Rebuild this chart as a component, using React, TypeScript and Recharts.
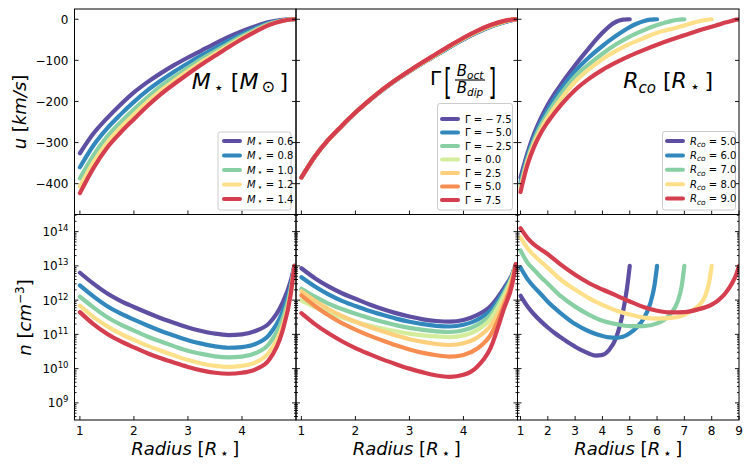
import React from 'react'
import { LineChart, Line, XAxis, YAxis } from 'recharts'

const FONT = "'DejaVu Sans', sans-serif"
const W = 747
const H = 467
const PANEL_X0 = 74.5
const PANEL_Y0 = 9
const PANEL_W = 221.5
const PANEL_H = 205.5

const masses = [0.6, 0.8, 1.0, 1.2, 1.4]
const gammas = [-7.5, -5.0, -2.5, 0.0, 2.5, 5.0, 7.5]
const corotationRadii = [5.0, 6.0, 7.0, 8.0, 9.0]

const spectral5 = ['#5e4fa2', '#3288bd', '#88cfa4', '#fee08b', '#d53e4f']
const spectral7 = ['#5e4fa2', '#3288bd', '#88cfa4', '#d3ed9c', '#fed07e', '#f88d52', '#d53e4f']

const xTicksShort = [1, 2, 3, 4]
const xTicksLong = [1, 2, 3, 4, 5, 6, 7, 8, 9]
const uTicks = [0, -100, -200, -300, -400]
const logNTicks = [9, 10, 11, 12, 13, 14]

// shared radius grid for the M and Gamma panels [R*]
const radiusGrid = [1, 1.25, 1.5, 1.75, 2, 2.25, 2.5, 2.75, 3, 3.25, 3.5, 3.75, 4, 4.25, 4.5, 4.75, 4.9, 4.97]

// u [km/s], stellar mass panel
const uMass06 = [-326, -278, -241, -208, -178, -153, -131, -111, -93, -76, -59, -43, -29, -17, -7, -1.5, -0.2, 0]
const uMass08 = [-360, -307, -266, -232, -201, -173, -149, -127, -107, -88, -70, -52, -36, -22, -9, -2.4, -0.3, 0]
const uMass10 = [-387, -331, -286, -251, -219, -190, -163, -140, -118, -97, -78, -59, -41, -25, -11, -3, -0.4, 0]
const uMass12 = [-407, -348, -301, -264, -232, -201, -173, -149, -126, -104, -84, -64, -45, -28, -13, -3.6, -0.45, 0]
const uMass14 = [-423, -362, -313, -276, -243, -211, -182, -157, -133, -110, -89, -68, -48, -30, -14, -4, -0.5, 0]

// log10 n [cm^-3], stellar mass panel
const logNMass06 = [12.8, 12.48, 12.2, 11.98, 11.8, 11.63, 11.47, 11.33, 11.2, 11.1, 11.02, 10.98, 11.0, 11.1, 11.32, 11.92, 12.55, 13.0]
const logNMass08 = [12.43, 12.11, 11.83, 11.61, 11.43, 11.26, 11.1, 10.96, 10.83, 10.73, 10.65, 10.61, 10.63, 10.72, 10.98, 11.65, 12.4, 13.0]
const logNMass10 = [12.1, 11.79, 11.51, 11.29, 11.11, 10.94, 10.79, 10.65, 10.52, 10.43, 10.36, 10.33, 10.35, 10.45, 10.72, 11.45, 12.3, 13.0]
const logNMass12 = [11.84, 11.51, 11.24, 11.02, 10.84, 10.67, 10.52, 10.38, 10.25, 10.15, 10.08, 10.05, 10.08, 10.18, 10.47, 11.25, 12.2, 13.0]
const logNMass14 = [11.65, 11.3, 11.02, 10.8, 10.62, 10.45, 10.3, 10.17, 10.05, 9.95, 9.88, 9.85, 9.88, 9.98, 10.25, 11.1, 12.15, 13.0]

// u [km/s], octupole/dipole panel
const uGammaM75 = [-385, -334, -293, -259, -227, -198.5, -172, -148.5, -127, -106.5, -87, -67.5, -49, -32.5, -18.5, -7.5, -2, 0]
const uGammaM50 = [-385, -334, -293, -259, -227, -198.5, -172, -148.3, -126.7, -106, -86.5, -67, -48.3, -31.8, -17.8, -7, -1.8, 0]
const uGammaM25 = [-385, -334, -293, -259, -227, -198.3, -171.7, -148, -126.3, -105.6, -86, -66.3, -47.6, -31, -17, -6.4, -1.5, 0]
const uGamma00 = [-385, -334, -293, -259, -227, -198.2, -171.5, -147.8, -126, -105.2, -85.4, -65.6, -46.8, -30.2, -16.2, -5.8, -1.2, 0]
const uGammaP25 = [-385, -334, -293, -259, -227, -198.1, -171.3, -147.5, -125.6, -104.8, -84.9, -65, -46.2, -29.4, -15.4, -5.1, -1, 0]
const uGammaP50 = [-385, -334, -293, -259, -227, -198, -171.1, -147.2, -125.3, -104.4, -84.4, -64.5, -45.6, -28.7, -14.7, -4.5, -0.7, 0]
const uGammaP75 = [-385, -334, -293, -259, -227, -198, -171, -147, -125, -104, -84, -64, -45, -28, -14, -4, -0.5, 0]

// log10 n [cm^-3], octupole/dipole panel
const logNGammaM75 = [12.93, 12.64, 12.4, 12.2, 12.04, 11.88, 11.74, 11.62, 11.52, 11.44, 11.39, 11.37, 11.42, 11.56, 11.82, 12.35, 12.75, 13.05]
const logNGammaM50 = [12.67, 12.4, 12.17, 11.98, 11.83, 11.69, 11.57, 11.46, 11.37, 11.3, 11.25, 11.23, 11.28, 11.42, 11.7, 12.28, 12.72, 13.05]
const logNGammaM25 = [12.33, 12.1, 11.9, 11.74, 11.6, 11.48, 11.37, 11.27, 11.19, 11.13, 11.09, 11.07, 11.12, 11.27, 11.57, 12.2, 12.7, 13.05]
const logNGamma00 = [11.99, 11.8, 11.63, 11.49, 11.37, 11.26, 11.17, 11.09, 11.02, 10.97, 10.94, 10.92, 10.97, 11.12, 11.45, 12.12, 12.66, 13.05]
const logNGammaP25 = [12.26, 11.98, 11.74, 11.54, 11.37, 11.22, 11.09, 10.97, 10.86, 10.78, 10.72, 10.69, 10.74, 10.9, 11.25, 11.98, 12.6, 13.05]
const logNGammaP50 = [12.14, 11.83, 11.56, 11.33, 11.14, 10.97, 10.82, 10.68, 10.56, 10.46, 10.39, 10.35, 10.4, 10.58, 10.98, 11.85, 12.55, 13.05]
const logNGammaP75 = [11.62, 11.3, 11.03, 10.8, 10.6, 10.43, 10.27, 10.13, 10.0, 9.89, 9.8, 9.76, 9.82, 10.05, 10.6, 11.75, 12.45, 13.05]

// corotation radius panel: each curve ends at its own R_co
const radiusRco5 = [1, 1.25, 1.5, 1.75, 2, 2.25, 2.5, 2.75, 3, 3.25, 3.5, 3.75, 4, 4.25, 4.5, 4.75, 4.9, 5]
const uRco5 = [-385, -326, -278, -240, -208, -181, -157, -134, -112, -91, -71, -51, -33, -17, -6, -1, -0.1, 0]
const logNRco5 = [12.13, 11.82, 11.58, 11.38, 11.2, 11.04, 10.9, 10.76, 10.64, 10.53, 10.44, 10.38, 10.4, 10.55, 10.9, 11.65, 12.35, 13.0]

const radiusRco6 = [1, 1.25, 1.5, 1.75, 2, 2.5, 3, 3.5, 4, 4.25, 4.5, 4.75, 5, 5.25, 5.5, 5.75, 5.9, 6]
const uRco6 = [-397, -334, -287, -249, -219, -168, -126, -93, -65, -52, -40, -29, -19, -11, -5, -1, -0.2, 0]
const logNRco6 = [12.95, 12.62, 12.38, 12.17, 11.95, 11.6, 11.3, 11.09, 10.95, 10.91, 10.9, 10.93, 11.03, 11.2, 11.45, 11.9, 12.4, 13.0]

const radiusRco7 = [1, 1.25, 1.5, 1.75, 2, 2.5, 3, 3.5, 4, 4.5, 5, 5.5, 6, 6.25, 6.5, 6.75, 6.9, 7]
const uRco7 = [-405, -341, -294, -258, -229, -180, -139, -110, -84, -61, -42, -27, -14, -9, -4.5, -1.2, -0.2, 0]
const logNRco7 = [13.45, 13.1, 12.88, 12.67, 12.48, 12.1, 11.81, 11.58, 11.4, 11.3, 11.24, 11.24, 11.32, 11.42, 11.6, 11.95, 12.4, 13.0]

const radiusRco8 = [1, 1.25, 1.5, 1.75, 2, 2.5, 3, 3.5, 4, 4.5, 5, 5.5, 6, 6.5, 7, 7.25, 7.5, 7.75, 7.9, 8]
const uRco8 = [-412, -348, -302, -267, -239, -192, -152, -122, -97, -77, -60, -46, -33, -24, -15, -10, -5.5, -2, -0.5, 0]
const logNRco8 = [13.83, 13.52, 13.3, 13.12, 12.94, 12.58, 12.31, 12.06, 11.86, 11.7, 11.58, 11.49, 11.46, 11.48, 11.57, 11.68, 11.82, 12.1, 12.5, 13.0]

const radiusRco9 = [1, 1.25, 1.5, 1.75, 2, 2.5, 3, 3.5, 4, 4.5, 5, 5.5, 6, 6.5, 7, 7.5, 8, 8.25, 8.5, 8.75, 8.9, 9]
const uRco9 = [-420, -355, -310, -276, -250, -207, -172, -145, -123, -105, -89, -75, -62, -50, -39, -28, -18, -13, -8, -3.5, -1, 0]
const logNRco9 = [14.1, 13.82, 13.62, 13.48, 13.34, 13.02, 12.74, 12.5, 12.31, 12.14, 11.96, 11.8, 11.69, 11.64, 11.65, 11.73, 11.87, 12.0, 12.2, 12.5, 12.75, 13.0]

// minor ticks of the log axis (2..9 x 10^k)
const logNMinor: number[] = []
for (let k = 8; k <= 14; k++) {
  for (let m = 2; m <= 9; m++) {
    const t = k + Math.log10(m)
    if (t > 8.5 && t < 14.5) logNMinor.push(t)
  }
}

type Row = { r: number; v: number }
type Series = { key: string; color: string; rows: Row[] }

const toRows = (r: number[], v: number[]): Row[] => r.map((x, i) => ({ r: x, v: v[i] }))

const massU = [uMass06, uMass08, uMass10, uMass12, uMass14]
const massN = [logNMass06, logNMass08, logNMass10, logNMass12, logNMass14]
const gammaU = [uGammaM75, uGammaM50, uGammaM25, uGamma00, uGammaP25, uGammaP50, uGammaP75]
const gammaN = [logNGammaM75, logNGammaM50, logNGammaM25, logNGamma00, logNGammaP25, logNGammaP50, logNGammaP75]
const rcoR = [radiusRco5, radiusRco6, radiusRco7, radiusRco8, radiusRco9]
const rcoU = [uRco5, uRco6, uRco7, uRco8, uRco9]
const rcoN = [logNRco5, logNRco6, logNRco7, logNRco8, logNRco9]

const massSeries = (vals: number[][]): Series[] =>
  vals.map((v, i) => ({ key: 'm' + i, color: spectral5[i], rows: toRows(radiusGrid, v) }))
const gammaSeries = (vals: number[][]): Series[] =>
  vals.map((v, i) => ({ key: 'g' + i, color: spectral7[i], rows: toRows(radiusGrid, v) }))
const rcoSeries = (vals: number[][]): Series[] =>
  vals.map((v, i) => ({ key: 'r' + i, color: spectral5[i], rows: toRows(rcoR[i], v) }))

const minus = (v: number, digits = 0) => (v < 0 ? '\u2212' : '') + Math.abs(v).toFixed(digits)

const EmptyTick = () => <g />

function LogTick(props: any) {
  const { x, y, payload } = props
  return (
    <text x={x} y={y + 4.5} textAnchor="end" fontSize={12} fontFamily={FONT} fill="#000">
      10
      <tspan dy={-5} fontSize={8.5}>
        {payload.value}
      </tspan>
    </text>
  )
}

const tickFont = { fontSize: 12, fill: '#000', fontFamily: FONT }

type PanelProps = {
  col: number
  row: number
  xDomain: [number, number]
  xTicks: number[]
  yDomain: [number, number]
  yTicks: number[]
  yMinor?: number[]
  showX: boolean
  yTick?: any
  yFormat?: (v: number) => string
  series: Series[]
}

function Panel({ col, row, xDomain, xTicks, yDomain, yTicks, yMinor, showX, yTick, yFormat, series }: PanelProps) {
  const left = PANEL_X0 + col * PANEL_W
  const top = PANEL_Y0 + row * PANEL_H
  const margin = { left, top, right: W - left - PANEL_W, bottom: H - top - PANEL_H }
  const inward = { stroke: '#000', strokeWidth: 0.9 }
  return (
    <div style={{ position: 'absolute', left: 0, top: 0 }}>
      <LineChart width={W} height={H} margin={margin}>
        <XAxis
          xAxisId="x"
          dataKey="r"
          type="number"
          domain={xDomain}
          ticks={xTicks}
          interval={0}
          allowDataOverflow
          height={0.001}
          axisLine={false}
          tickLine={false}
          tickSize={0}
          tickMargin={6.5}
          tick={showX ? tickFont : EmptyTick}
        />
        <XAxis
          xAxisId="xin"
          dataKey="r"
          type="number"
          domain={xDomain}
          ticks={xTicks}
          interval={0}
          allowDataOverflow
          height={0.001}
          mirror
          axisLine={false}
          tickLine={inward}
          tickSize={4}
          tick={EmptyTick}
        />
        <YAxis
          yAxisId="y"
          type="number"
          domain={yDomain}
          ticks={yTicks}
          interval={0}
          allowDataOverflow
          width={0.001}
          axisLine={false}
          tickLine={false}
          tickSize={0}
          tickMargin={6}
          tick={yTick ?? EmptyTick}
          tickFormatter={yFormat}
        />
        <YAxis
          yAxisId="yl"
          type="number"
          domain={yDomain}
          ticks={yTicks}
          interval={0}
          allowDataOverflow
          width={0.001}
          mirror
          axisLine={false}
          tickLine={inward}
          tickSize={4}
          tick={EmptyTick}
        />
        <YAxis
          yAxisId="yr"
          orientation="right"
          type="number"
          domain={yDomain}
          ticks={yTicks}
          interval={0}
          allowDataOverflow
          width={0.001}
          mirror
          axisLine={false}
          tickLine={inward}
          tickSize={4}
          tick={EmptyTick}
        />
        {yMinor && (
          <YAxis
            yAxisId="ylm"
            type="number"
            domain={yDomain}
            ticks={yMinor}
            interval={0}
            allowDataOverflow
            width={0.001}
            mirror
            axisLine={false}
            tickLine={inward}
            tickSize={2}
            tick={EmptyTick}
          />
        )}
        {yMinor && (
          <YAxis
            yAxisId="yrm"
            orientation="right"
            type="number"
            domain={yDomain}
            ticks={yMinor}
            interval={0}
            allowDataOverflow
            width={0.001}
            mirror
            axisLine={false}
            tickLine={inward}
            tickSize={2}
            tick={EmptyTick}
          />
        )}
        {series.map((s) => (
          <Line
            key={s.key}
            xAxisId="x"
            yAxisId="y"
            data={s.rows}
            dataKey="v"
            type="monotone"
            stroke={s.color}
            strokeWidth={4.2}
            strokeLinecap="round"
            dot={false}
            activeDot={false}
            isAnimationActive={false}
          />
        ))}
      </LineChart>
    </div>
  )
}

type LegendProps = {
  x: number
  y: number
  w: number
  h: number
  rowY: number
  step: number
  handleX: number
  colors: string[]
  labels: React.ReactNode[]
}

function LegendBox({ x, y, w, h, rowY, step, handleX, colors, labels }: LegendProps) {
  return (
    <g>
      <rect x={x} y={y} width={w} height={h} rx={2.5} fill="#fff" fillOpacity={0.8} stroke="#cccccc" strokeWidth={1} />
      {labels.map((lab, i) => {
        const cy = rowY + i * step
        return (
          <g key={i}>
            <line x1={handleX + 2} x2={handleX + 18} y1={cy} y2={cy} stroke={colors[i]} strokeWidth={4} strokeLinecap="round" />
            <text x={handleX + 25} y={cy + 3.5} fontSize={10} fill="#000">
              {lab}
            </text>
          </g>
        )
      })}
    </g>
  )
}

const massLabels = masses.map((m) => (
  <>
    <tspan fontStyle="italic">M</tspan>
    <tspan fontSize={8.5} dy={1.5}>{'\u2009⋆'}</tspan>
    <tspan dy={-1.5}>{' = ' + m.toFixed(1)}</tspan>
  </>
))
const gammaLabels = gammas.map((g) => (
  <tspan>{'Γ = ' + (g < 0 ? '\u2212\u2009' : '') + Math.abs(g).toFixed(1)}</tspan>
))
const rcoLabels = corotationRadii.map((r) => (
  <>
    <tspan fontStyle="italic">R</tspan>
    <tspan fontStyle="italic" fontSize={7.5} dy={2.5}>co</tspan>
    <tspan dy={-2.5}>{' = ' + r.toFixed(1)}</tspan>
  </>
))

function RadiusLabel({ cx }: { cx: number }) {
  return (
    <text x={cx} y={454.5} textAnchor="middle" fontSize={18} fill="#000">
      <tspan fontStyle="italic">Radius</tspan>
      <tspan>{' ['}</tspan>
      <tspan fontStyle="italic">R</tspan>
      <tspan fontSize={14} dy={3}>{'\u2009⋆'}</tspan>
      <tspan dy={-3}>{'\u2009]'}</tspan>
    </text>
  )
}

function Overlay() {
  const frames = []
  for (let r = 0; r < 2; r++) {
    for (let c = 0; c < 3; c++) {
      frames.push(
        <rect
          key={`${r}-${c}`}
          x={PANEL_X0 + c * PANEL_W}
          y={PANEL_Y0 + r * PANEL_H}
          width={PANEL_W}
          height={PANEL_H}
          fill="none"
          stroke="#000"
          strokeWidth={1}
        />
      )
    }
  }
  return (
    <svg
      width={W}
      height={H}
      style={{ position: 'absolute', left: 0, top: 0, pointerEvents: 'none' }}
      fontFamily={FONT}
    >
      {frames}

      {/* panel titles */}
      <text x={288} y={88.5} fontSize={22} textAnchor="end" fill="#000">
        <tspan fontStyle="italic">M</tspan>
        <tspan fontSize={16} dy={4}>{'\u2009⋆'}</tspan>
        <tspan dy={-4}>{' ['}</tspan>
        <tspan fontStyle="italic">M</tspan>
        <tspan fontSize={16} dy={3}>{'\u2009⊙'}</tspan>
        <tspan dy={-3}>{'\u2009]'}</tspan>
      </text>

      <text x={430} y={85} fontSize={20} fill="#000">Γ</text>
      <text transform="translate(444,93.5) scale(0.55,1)" fontSize={36} fill="#000">[</text>
      <text x={470} y={76} fontSize={15} textAnchor="middle" fill="#000">
        <tspan fontStyle="italic">B</tspan>
        <tspan fontStyle="italic" fontSize={10.5} dy={2.5}>oct</tspan>
      </text>
      <line x1={455} x2={485} y1={80} y2={80} stroke="#000" strokeWidth={1.1} />
      <text x={470} y={93} fontSize={15} textAnchor="middle" fill="#000">
        <tspan fontStyle="italic">B</tspan>
        <tspan fontStyle="italic" fontSize={10.5} dy={2.5}>dip</tspan>
      </text>
      <text transform="translate(488.5,93.5) scale(0.55,1)" fontSize={36} fill="#000">]</text>

      <text x={713} y={87.5} fontSize={22} textAnchor="end" fill="#000">
        <tspan fontStyle="italic">R</tspan>
        <tspan fontStyle="italic" fontSize={15} dy={5}>co</tspan>
        <tspan dy={-5}>{' ['}</tspan>
        <tspan fontStyle="italic">R</tspan>
        <tspan fontSize={16} dy={4}>{'\u2009⋆'}</tspan>
        <tspan dy={-4}>{'\u2009]'}</tspan>
      </text>

      {/* legends */}
      <LegendBox x={218} y={132} w={73} h={78} rowY={141} step={14.5} handleX={222} colors={spectral5} labels={massLabels} />
      <LegendBox x={437.5} y={103.5} w={75} h={106.5} rowY={119} step={13.5} handleX={440} colors={spectral7} labels={gammaLabels} />
      <LegendBox x={662.5} y={131.5} w={73} h={78.5} rowY={141} step={14.4} handleX={665} colors={spectral5} labels={rcoLabels} />

      {/* axis titles */}
      <text transform="translate(25.5,112) rotate(-90)" textAnchor="middle" fontSize={18} fill="#000">
        <tspan fontStyle="italic">u</tspan>
        <tspan>{' ['}</tspan>
        <tspan fontStyle="italic">km/s</tspan>
        <tspan>]</tspan>
      </text>
      <text transform="translate(31,317.5) rotate(-90)" textAnchor="middle" fontSize={18} fill="#000">
        <tspan fontStyle="italic">n</tspan>
        <tspan>{' ['}</tspan>
        <tspan fontStyle="italic">cm</tspan>
        <tspan fontSize={12} dy={-7}>−3</tspan>
        <tspan dy={7}>]</tspan>
      </text>
      <RadiusLabel cx={PANEL_X0 + PANEL_W / 2} />
      <RadiusLabel cx={PANEL_X0 + PANEL_W * 1.5} />
      <RadiusLabel cx={PANEL_X0 + PANEL_W * 2.5} />
    </svg>
  )
}

export default function App() {
  const uDomain: [number, number] = [-475, 25]
  const nDomain: [number, number] = [8.5, 14.5]
  const xShort: [number, number] = [0.9, 5.0]
  const xLong: [number, number] = [0.89, 9.0]
  return (
    <div style={{ position: 'absolute', left: 0, top: 0, width: W, height: H, background: '#fff', fontFamily: FONT }}>
      <Panel col={0} row={0} xDomain={xShort} xTicks={xTicksShort} yDomain={uDomain} yTicks={uTicks} showX={false}
        yTick={tickFont} yFormat={(v) => minus(v)} series={massSeries(massU)} />
      <Panel col={1} row={0} xDomain={xShort} xTicks={xTicksShort} yDomain={uDomain} yTicks={uTicks} showX={false}
        series={gammaSeries(gammaU)} />
      <Panel col={2} row={0} xDomain={xLong} xTicks={xTicksLong} yDomain={uDomain} yTicks={uTicks} showX={false}
        series={rcoSeries(rcoU)} />
      <Panel col={0} row={1} xDomain={xShort} xTicks={xTicksShort} yDomain={nDomain} yTicks={logNTicks} yMinor={logNMinor}
        showX yTick={LogTick} series={massSeries(massN)} />
      <Panel col={1} row={1} xDomain={xShort} xTicks={xTicksShort} yDomain={nDomain} yTicks={logNTicks} yMinor={logNMinor}
        showX series={gammaSeries(gammaN)} />
      <Panel col={2} row={1} xDomain={xLong} xTicks={xTicksLong} yDomain={nDomain} yTicks={logNTicks} yMinor={logNMinor}
        showX series={rcoSeries(rcoN)} />
      <Overlay />
    </div>
  )
}
